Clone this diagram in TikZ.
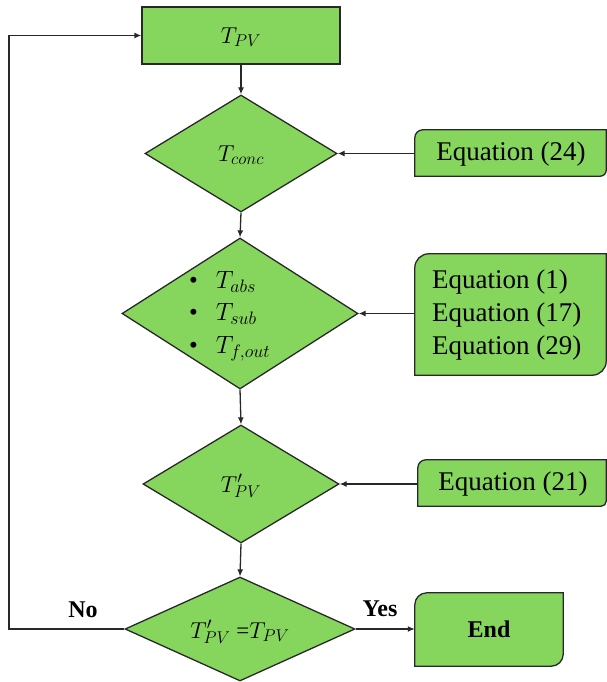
\RequirePackage{fix-cm}
\documentclass[tikz,border=0pt]{standalone}
\usepackage{fontspec}
\setmainfont{Liberation Serif}
\newfontfamily\eqfont{Liberation Serif}
\usetikzlibrary{shapes.geometric,arrows.meta,backgrounds}
\DeclareMathSizes{23}{23}{17}{13}
\DeclareMathSizes{25}{25}{18}{14}
\definecolor{boxgreen}{RGB}{134,214,94}
\definecolor{edge}{RGB}{40,40,40}
\tikzset{
  x=1pt,y=1pt,
  shapebase/.style={draw=edge,fill=boxgreen,line width=1.3pt,inner sep=0pt},
  rectbox/.style={shapebase,rectangle,minimum width=198pt,minimum height=57pt},
  dia/.style={shapebase,diamond,inner sep=0pt},
  eqnode/.style={inner sep=0pt,font=\eqfont\fontsize{27}{33}\selectfont},
  mathtxt/.style={inner sep=0pt,font=\eqfont\fontsize{23}{32}\selectfont},
  bigmath/.style={inner sep=0pt,font=\eqfont\fontsize{25}{32.5}\selectfont},
  arr/.style={draw=edge,line width=1.3pt,-{Latex[length=7pt,width=6pt]}},
  lbl/.style={inner sep=0pt,font=\eqfont\bfseries\fontsize{24}{28}\selectfont},
  cutbox/.style={fill=boxgreen,draw=edge,line width=1.3pt}
}
\newcommand{\cutrect}[3]{%
  \path[cutbox] (#1.south west) -- ([yshift=-#2]#1.north west)
    arc[start angle=180,end angle=90,radius=#2] -- (#1.north east)
    -- ([yshift=#3]#1.south east) arc[start angle=0,end angle=-90,radius=#3] -- cycle;}
\begin{document}
\begin{tikzpicture}
\useasboundingbox (0,0) rectangle (607,-682);
% main column
\node[rectbox] (tpv) at (241,-35.5) {};
\node[mathtxt] (tpvt) at (241,-37) {$T_{PV}$};
\node[dia,minimum width=192pt,minimum height=117pt] (d1) at (241,-153.5) {};
\node[mathtxt] (d1t) at (241,-155) {$T_{conc}$};
\node[dia,minimum width=236pt,minimum height=151pt] (d2) at (240,-313.5) {};
\node[bigmath,anchor=west,align=left] (d2t) at (189,-316)
  {\textbullet\hspace{18pt}$T_{abs}$\\\textbullet\hspace{18pt}$T_{sub}$\\\textbullet\hspace{18pt}$T_{f,out}$};
\node[dia,minimum width=196pt,minimum height=118pt] (d3) at (241,-484) {};
\node[mathtxt] (d3t) at (241,-486) {$T'_{PV}$};
\node[dia,minimum width=230pt,minimum height=104pt] (d4) at (240,-629) {};
\node[mathtxt] (d4t) at (240,-632) {$T'_{PV}$ =$T_{PV}$};
% side boxes
\node[minimum width=191pt,minimum height=46pt,inner sep=0pt] (eq24) at (510.5,-153) {};
\node[minimum width=191pt,minimum height=121pt,inner sep=0pt] (eqm) at (510.5,-314.5) {};
\node[minimum width=188pt,minimum height=46pt,inner sep=0pt] (eq21) at (512,-483) {};
\node[minimum width=148pt,minimum height=73pt,inner sep=0pt] (endb) at (489,-629.5) {};
\begin{scope}[on background layer]
\cutrect{eq24}{8pt}{6pt}
\cutrect{eqm}{14pt}{14pt}
\cutrect{eq21}{8pt}{5pt}
\cutrect{endb}{12pt}{12pt}
\end{scope}
\node[eqnode] (eq24t) at (511,-154) {Equation (24)};
\node[eqnode,anchor=west,align=left] (eqmt) at (432,-315) {Equation (1)\\Equation (17)\\Equation (29)};
\node[eqnode] (eq21t) at (513,-484) {Equation (21)};
\node[lbl] (endt) at (endb) {End};
% connectors
\draw[arr] (tpv.south) -- (d1.north);
\draw[arr] (d1.south) -- (d2.north);
\draw[arr] (d2.south) -- (d3.north);
\draw[arr] (d3.south) -- (d4.north);
\draw[arr] (eq24.west |- d1.east) -- (d1.east);
\draw[arr] (eqm.west |- d2.east) -- (d2.east);
\draw[arr] (eq21.west |- d3.east) -- (d3.east);
\draw[arr] (d4.east) -- (endb.west |- d4.east);
\coordinate (fb) at (9,0);
\draw[arr] (d4.west) -- (d4.west -| fb) |- (tpv.west);
\node[lbl] (no) at (83,-610) {No};
\node[lbl] (yes) at (380,-609) {Yes};
\end{tikzpicture}
\end{document}
